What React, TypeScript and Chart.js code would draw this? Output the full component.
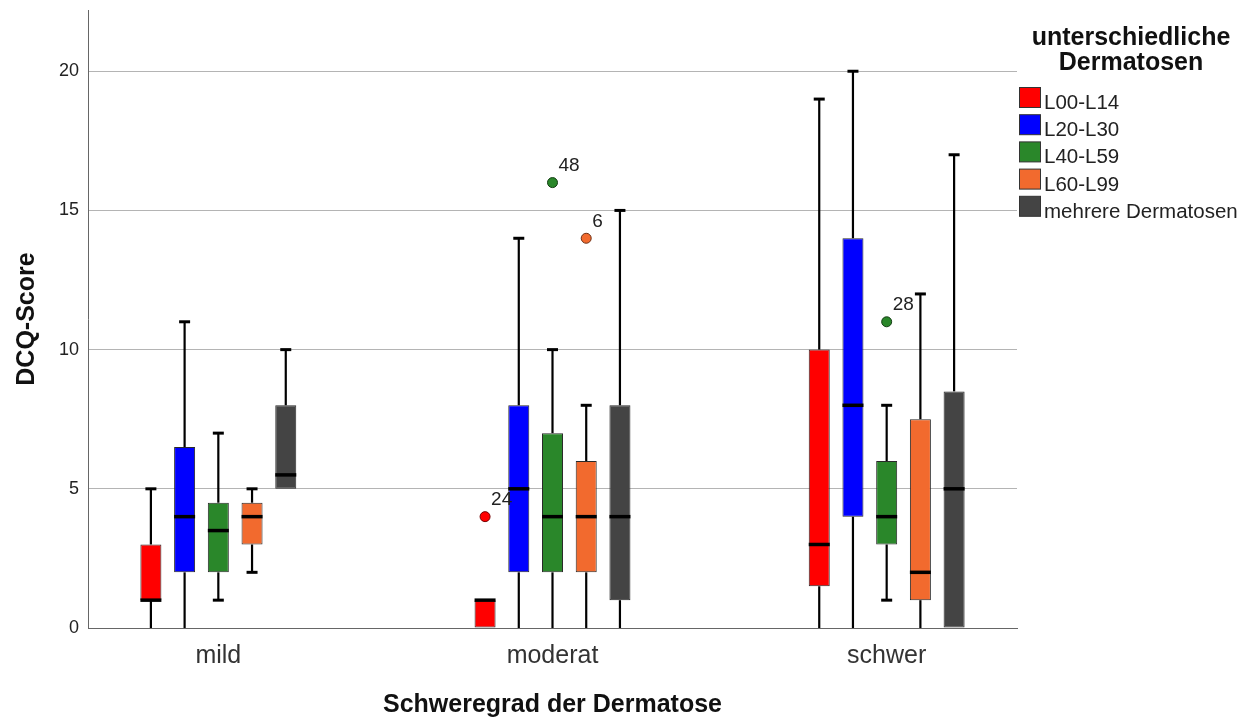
import React, { useEffect, useRef } from "react";
import { Chart, registerables } from "chart.js";

Chart.register(...registerables);

// ---------- data ----------
const categories = ["mild", "moderat", "schwer"];
const seriesNames = ["L00-L14", "L20-L30", "L40-L59", "L60-L99", "mehrere Dermatosen"];
const seriesColors = ["#ff0000", "#0000ff", "#2a872a", "#f26a2e", "#444444"];

// per series (rows) and category (columns)
const minValues = [
  [0, 0, 0],
  [0, 0, 0],
  [1, 0, 1],
  [2, 0, 0],
  [5, 0, 0],
];
const q1Values = [
  [1, 0, 1.5],
  [2, 2, 4],
  [2, 2, 3],
  [3, 2, 1],
  [5, 1, 0],
];
const medianValues = [
  [1, 1, 3],
  [4, 5, 8],
  [3.5, 4, 4],
  [4, 4, 2],
  [5.5, 4, 5],
];
const q3Values = [
  [3, 1, 10],
  [6.5, 8, 14],
  [4.5, 7, 6],
  [4.5, 6, 7.5],
  [8, 8, 8.5],
];
const maxValues = [
  [5, 1, 19],
  [11, 14, 20],
  [7, 10, 8],
  [5, 8, 12],
  [10, 15, 17],
];

const outlierSeries = [0, 2, 3, 2];
const outlierCategory = [1, 1, 1, 2];
const outlierValues = [4, 16, 14, 11];
const outlierLabels = ["24", "48", "6", "28"];

const yTicks = [0, 5, 10, 15, 20];

const legendTitle = ["unterschiedliche", "Dermatosen"];
const xTitle = "Schweregrad der Dermatose";
const yTitle = "DCQ-Score";

// ---------- styling ----------
const FONT = "'Liberation Sans', Arial, Helvetica, sans-serif";
const CAT_PCT = 0.5045;
const BAR_PCT = 0.623;

const darker = (hex: string) => {
  const n = parseInt(hex.slice(1), 16);
  const r = Math.round(((n >> 16) & 255) * 0.45);
  const g = Math.round(((n >> 8) & 255) * 0.45);
  const b = Math.round((n & 255) * 0.45);
  return `rgb(${r},${g},${b})`;
};

const boxExtras = {
  id: "boxExtras",
  beforeDatasetsDraw(chart: any) {
    const { ctx, chartArea } = chart;
    const ys = chart.scales.y;
    ctx.save();
    ctx.beginPath();
    ctx.rect(chartArea.left, chartArea.top, chartArea.right - chartArea.left, chartArea.bottom - chartArea.top);
    ctx.clip();
    ctx.strokeStyle = "#000";
    for (let s = 0; s < seriesNames.length; s++) {
      const meta = chart.getDatasetMeta(s);
      meta.data.forEach((el: any, c: number) => {
        const { x } = el.getProps(["x"], true);
        const lo = minValues[s][c];
        const hi = maxValues[s][c];
        const q1 = q1Values[s][c];
        const q3 = q3Values[s][c];
        const segs: [number, number][] = [];
        if (hi > q3) segs.push([q3, hi]);
        if (lo < q1) segs.push([lo, q1]);
        segs.forEach(([a, b]) => {
          ctx.lineWidth = 2.2;
          ctx.beginPath();
          ctx.moveTo(x, ys.getPixelForValue(a));
          ctx.lineTo(x, ys.getPixelForValue(b));
          ctx.stroke();
        });
        ctx.lineWidth = 3;
        if (hi > q3) {
          const py = ys.getPixelForValue(hi);
          ctx.beginPath();
          ctx.moveTo(x - 5.5, py);
          ctx.lineTo(x + 5.5, py);
          ctx.stroke();
        }
        if (lo < q1 && lo > ys.min) {
          const py = ys.getPixelForValue(lo);
          ctx.beginPath();
          ctx.moveTo(x - 5.5, py);
          ctx.lineTo(x + 5.5, py);
          ctx.stroke();
        }
      });
    }
    ctx.restore();
  },
  afterDatasetsDraw(chart: any) {
    const { ctx } = chart;
    const ys = chart.scales.y;
    ctx.save();
    ctx.strokeStyle = "#000";
    ctx.lineWidth = 3.5;
    for (let s = 0; s < seriesNames.length; s++) {
      const meta = chart.getDatasetMeta(s);
      meta.data.forEach((el: any, c: number) => {
        const { x, width } = el.getProps(["x", "width"], true);
        const py = ys.getPixelForValue(medianValues[s][c]);
        ctx.beginPath();
        ctx.moveTo(x - width / 2, py);
        ctx.lineTo(x + width / 2, py);
        ctx.stroke();
      });
    }
    // outlier labels
    const om = chart.getDatasetMeta(seriesNames.length);
    ctx.fillStyle = "#222";
    ctx.font = `19px ${FONT}`;
    ctx.textAlign = "left";
    ctx.textBaseline = "middle";
    om.data.forEach((pt: any, i: number) => {
      const { x, y } = pt.getProps(["x", "y"], true);
      ctx.fillText(outlierLabels[i], x + 6, y - 17);
    });
    ctx.restore();
  },
  afterDraw(chart: any) {
    const { ctx } = chart;
    ctx.save();
    // legend title
    ctx.fillStyle = "#111";
    ctx.font = `bold 25px ${FONT}`;
    ctx.textAlign = "center";
    ctx.textBaseline = "alphabetic";
    legendTitle.forEach((t, i) => ctx.fillText(t, 1131, 45 + i * 24.5));
    // legend items
    ctx.font = `20.5px ${FONT}`;
    ctx.textAlign = "left";
    seriesNames.forEach((name, i) => {
      const top = 87.5 + i * 27.2;
      ctx.fillStyle = seriesColors[i];
      ctx.fillRect(1019.5, top, 21, 20);
      ctx.strokeStyle = "#333";
      ctx.lineWidth = 1;
      ctx.strokeRect(1019.5, top, 21, 20);
      ctx.fillStyle = "#222";
      ctx.fillText(name, 1044, top + 21.5);
    });
    ctx.restore();
  },
};

export default function App() {
  const ref = useRef<HTMLCanvasElement | null>(null);

  useEffect(() => {
    if (!ref.current) return;
    Chart.defaults.font.family = FONT;

    const barSets = seriesNames.map((name, s) => ({
      type: "bar" as const,
      label: name,
      data: categories.map((_, c) => ({ x: c, y: [q1Values[s][c], q3Values[s][c]] })),
      backgroundColor: seriesColors[s],
      borderColor: "#2a2a2a",
      borderWidth: 1,
      borderSkipped: false as const,
      categoryPercentage: CAT_PCT,
      barPercentage: BAR_PCT,
    }));

    const outlierSet = {
      type: "scatter" as const,
      label: "outliers",
      data: outlierValues.map((v, i) => ({
        x: outlierCategory[i] + ((outlierSeries[i] - (seriesNames.length - 1) / 2) * CAT_PCT) / seriesNames.length,
        y: v,
      })),
      pointRadius: 5,
      pointBackgroundColor: outlierSeries.map((s) => seriesColors[s]),
      pointBorderColor: outlierSeries.map((s) => darker(seriesColors[s])),
      pointBorderWidth: 1,
    };

    const chart = new Chart(ref.current, {
      type: "bar",
      data: { datasets: [...barSets, outlierSet] as any },
      options: {
        responsive: false,
        animation: false,
        events: [],
        layout: { padding: { top: 0, right: 236, left: 0, bottom: 0 } },
        plugins: {
          legend: { display: false },
          tooltip: { enabled: false },
        },
        scales: {
          x: {
            type: "linear",
            min: -0.39,
            max: 2.39,
            offset: false,
            afterBuildTicks: (scale: any) => {
              scale.ticks = categories.map((_, i) => ({ value: i }));
            },
            afterFit: (scale: any) => {
              scale.height = 92;
              scale.paddingLeft = 0;
              scale.paddingRight = 0;
            },
            ticks: {
              callback: (v: any) => categories[v as number] ?? "",
              font: { size: 25, family: FONT },
              color: "#333",
              padding: 13,
              autoSkip: false,
              maxRotation: 0,
            },
            grid: { display: false, drawTicks: false, offset: false },
            border: { display: true, color: "#666", width: 1 },
            title: {
              display: true,
              text: xTitle,
              font: { size: 25, weight: "bold", family: FONT },
              color: "#111",
              padding: { top: 0, bottom: 0 },
            },
          },
          y: {
            type: "linear",
            min: 0,
            max: 22.2,
            afterBuildTicks: (scale: any) => {
              scale.ticks = yTicks.map((v) => ({ value: v }));
            },
            afterFit: (scale: any) => {
              scale.width = 88;
              scale.paddingTop = 10;
              scale.paddingBottom = 0;
            },
            ticks: {
              font: { size: 18, family: FONT },
              color: "#222",
              padding: 9,
            },
            grid: { color: "#b4b4b4", drawTicks: false, lineWidth: 1 },
            border: { display: true, color: "#666", width: 1 },
            title: {
              display: true,
              text: yTitle,
              font: { size: 25, weight: "bold", family: FONT },
              color: "#111",
              padding: { top: 12, bottom: 0 },
            },
          },
        },
      } as any,
      plugins: [boxExtras],
    });

    return () => chart.destroy();
  }, []);

  return (
    <div style={{ position: "absolute", left: 0, top: 0, width: 1253, height: 720, background: "#fff" }}>
      <canvas ref={ref} width={1253} height={720} style={{ display: "block", width: 1253, height: 720 }} />
    </div>
  );
}
